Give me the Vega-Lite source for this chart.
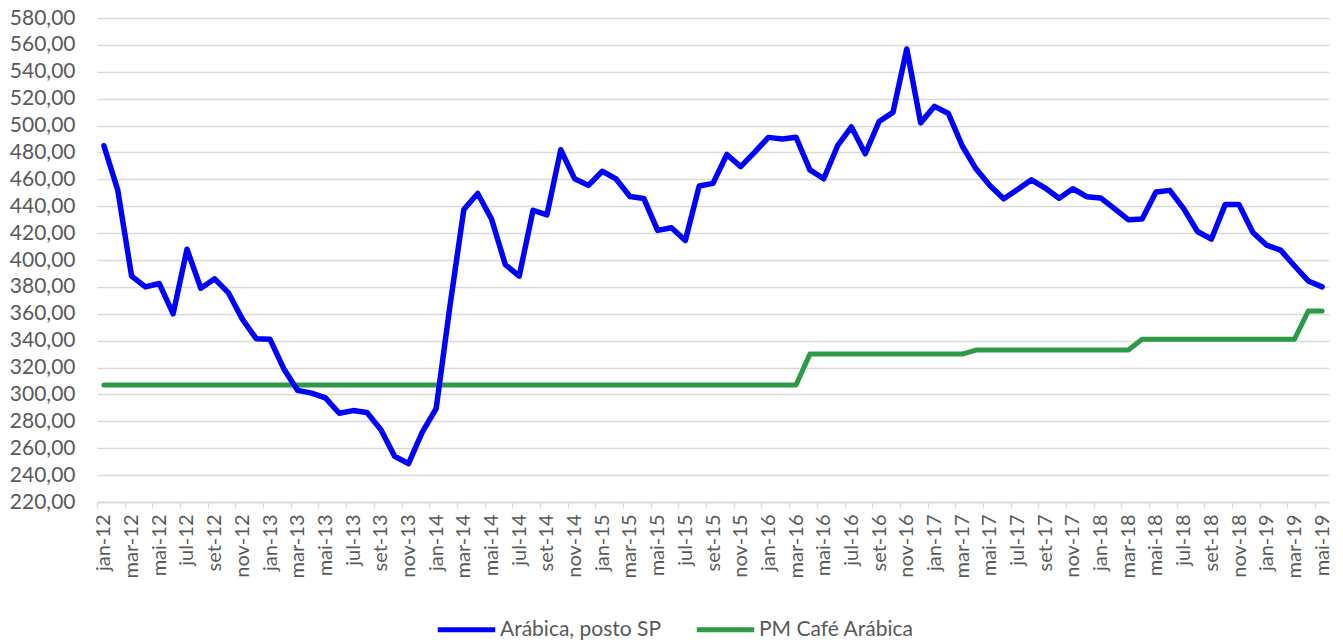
{
  "$schema": "https://vega.github.io/schema/vega-lite/v6.json",
  "autosize": {"type": "none"},
  "width": 1232,
  "height": 484,
  "padding": {"left": 97, "top": 18, "right": 14, "bottom": 142},
  "background": "white",
  "config": {
    "font": "Lato",
    "view": {"stroke": null}
  },
  "datasets": {
    "arabica": [
      {"m":"jan-12","v":485},{"m":"fev-12","v":452},{"m":"mar-12","v":388},{"m":"abr-12","v":380},
      {"m":"mai-12","v":382.5},{"m":"jun-12","v":360},{"m":"jul-12","v":408},{"m":"ago-12","v":379},
      {"m":"set-12","v":386},{"m":"out-12","v":375.5},{"m":"nov-12","v":356},{"m":"dez-12","v":341.5},
      {"m":"jan-13","v":341},{"m":"fev-13","v":319},{"m":"mar-13","v":303},{"m":"abr-13","v":301},
      {"m":"mai-13","v":297.5},{"m":"jun-13","v":286},{"m":"jul-13","v":288},{"m":"ago-13","v":286.5},
      {"m":"set-13","v":274},{"m":"out-13","v":254},{"m":"nov-13","v":248.5},{"m":"dez-13","v":272},
      {"m":"jan-14","v":289.5},{"m":"fev-14","v":366},{"m":"mar-14","v":437.5},{"m":"abr-14","v":449.5},
      {"m":"mai-14","v":430.5},{"m":"jun-14","v":396.5},{"m":"jul-14","v":388},{"m":"ago-14","v":437},
      {"m":"set-14","v":433.5},{"m":"out-14","v":482},{"m":"nov-14","v":460.5},{"m":"dez-14","v":455.5},
      {"m":"jan-15","v":466},{"m":"fev-15","v":460.3},{"m":"mar-15","v":447.2},{"m":"abr-15","v":445.8},
      {"m":"mai-15","v":422},{"m":"jun-15","v":424},{"m":"jul-15","v":414.5},{"m":"ago-15","v":455},
      {"m":"set-15","v":457},{"m":"out-15","v":478.5},{"m":"nov-15","v":469.5},{"m":"dez-15","v":480},
      {"m":"jan-16","v":491.2},{"m":"fev-16","v":490},{"m":"mar-16","v":491.3},{"m":"abr-16","v":467},
      {"m":"mai-16","v":460.4},{"m":"jun-16","v":485},{"m":"jul-16","v":499},{"m":"ago-16","v":479},
      {"m":"set-16","v":503},{"m":"out-16","v":509.8},{"m":"nov-16","v":557},{"m":"dez-16","v":502},
      {"m":"jan-17","v":514.3},{"m":"fev-17","v":509},{"m":"mar-17","v":485},{"m":"abr-17","v":467.8},
      {"m":"mai-17","v":455.4},{"m":"jun-17","v":445.5},{"m":"jul-17","v":452.5},{"m":"ago-17","v":459.6},
      {"m":"set-17","v":453.5},{"m":"out-17","v":446},{"m":"nov-17","v":453},{"m":"dez-17","v":447.1},
      {"m":"jan-18","v":446.2},{"m":"fev-18","v":438.2},{"m":"mar-18","v":430},{"m":"abr-18","v":430.5},
      {"m":"mai-18","v":450.6},{"m":"jun-18","v":451.8},{"m":"jul-18","v":438.2},{"m":"ago-18","v":421.2},
      {"m":"set-18","v":415.5},{"m":"out-18","v":441.2},{"m":"nov-18","v":441.2},{"m":"dez-18","v":420.4},
      {"m":"jan-19","v":411},{"m":"fev-19","v":407.3},{"m":"mar-19","v":395.7},{"m":"abr-19","v":384.4},
      {"m":"mai-19","v":380}
    ],
    "pm": [
      {"m":"jan-12","v":307},{"m":"fev-12","v":307},{"m":"mar-12","v":307},{"m":"abr-12","v":307},
      {"m":"mai-12","v":307},{"m":"jun-12","v":307},{"m":"jul-12","v":307},{"m":"ago-12","v":307},
      {"m":"set-12","v":307},{"m":"out-12","v":307},{"m":"nov-12","v":307},{"m":"dez-12","v":307},
      {"m":"jan-13","v":307},{"m":"fev-13","v":307},{"m":"mar-13","v":307},{"m":"abr-13","v":307},
      {"m":"mai-13","v":307},{"m":"jun-13","v":307},{"m":"jul-13","v":307},{"m":"ago-13","v":307},
      {"m":"set-13","v":307},{"m":"out-13","v":307},{"m":"nov-13","v":307},{"m":"dez-13","v":307},
      {"m":"jan-14","v":307},{"m":"fev-14","v":307},{"m":"mar-14","v":307},{"m":"abr-14","v":307},
      {"m":"mai-14","v":307},{"m":"jun-14","v":307},{"m":"jul-14","v":307},{"m":"ago-14","v":307},
      {"m":"set-14","v":307},{"m":"out-14","v":307},{"m":"nov-14","v":307},{"m":"dez-14","v":307},
      {"m":"jan-15","v":307},{"m":"fev-15","v":307},{"m":"mar-15","v":307},{"m":"abr-15","v":307},
      {"m":"mai-15","v":307},{"m":"jun-15","v":307},{"m":"jul-15","v":307},{"m":"ago-15","v":307},
      {"m":"set-15","v":307},{"m":"out-15","v":307},{"m":"nov-15","v":307},{"m":"dez-15","v":307},
      {"m":"jan-16","v":307},{"m":"fev-16","v":307},{"m":"mar-16","v":307},{"m":"abr-16","v":330},
      {"m":"mai-16","v":330},{"m":"jun-16","v":330},{"m":"jul-16","v":330},{"m":"ago-16","v":330},
      {"m":"set-16","v":330},{"m":"out-16","v":330},{"m":"nov-16","v":330},{"m":"dez-16","v":330},
      {"m":"jan-17","v":330},{"m":"fev-17","v":330},{"m":"mar-17","v":330},{"m":"abr-17","v":333},
      {"m":"mai-17","v":333},{"m":"jun-17","v":333},{"m":"jul-17","v":333},{"m":"ago-17","v":333},
      {"m":"set-17","v":333},{"m":"out-17","v":333},{"m":"nov-17","v":333},{"m":"dez-17","v":333},
      {"m":"jan-18","v":333},{"m":"fev-18","v":333},{"m":"mar-18","v":333},{"m":"abr-18","v":341},
      {"m":"mai-18","v":341},{"m":"jun-18","v":341},{"m":"jul-18","v":341},{"m":"ago-18","v":341},
      {"m":"set-18","v":341},{"m":"out-18","v":341},{"m":"nov-18","v":341},{"m":"dez-18","v":341},
      {"m":"jan-19","v":341},{"m":"fev-19","v":341},{"m":"mar-19","v":341},{"m":"abr-19","v":362},
      {"m":"mai-19","v":362}
    ]
  },
  "encoding": {
    "x": {
      "field": "m",
      "type": "ordinal",
      "sort": null,
      "title": null,
      "scale": {"type": "point", "padding": 0.5},
      "axis": {
        "values": ["jan-12","mar-12","mai-12","jul-12","set-12","nov-12","jan-13","mar-13","mai-13","jul-13","set-13","nov-13","jan-14","mar-14","mai-14","jul-14","set-14","nov-14","jan-15","mar-15","mai-15","jul-15","set-15","nov-15","jan-16","mar-16","mai-16","jul-16","set-16","nov-16","jan-17","mar-17","mai-17","jul-17","set-17","nov-17","jan-18","mar-18","mai-18","jul-18","set-18","nov-18","jan-19","mar-19","mai-19"],
        "labelAngle": -90,
        "labelFontSize": 20,
        "labelColor": "#595959",
        "labelPadding": 6,
        "tickSize": 6,
        "tickColor": "#d9d9d9",
        "tickWidth": 1.3,
        "tickOffset": -6.92,
        "labelOffset": 6.92,
        "domainColor": "#d9d9d9",
        "domainWidth": 1.5,
        "grid": false
      }
    },
    "y": {
      "field": "v",
      "type": "quantitative",
      "title": null,
      "scale": {"domain": [220, 580], "nice": false, "zero": false},
      "axis": {
        "values": [220,240,260,280,300,320,340,360,380,400,420,440,460,480,500,520,540,560,580],
        "labelExpr": "replace(format(datum.value, '.2f'), '.', ',')",
        "labelFontSize": 21,
        "labelColor": "#595959",
        "labelPadding": 22,
        "ticks": false,
        "domain": false,
        "grid": true,
        "gridColor": "#d9d9d9",
        "gridWidth": 1.4
      }
    },
    "color": {
      "field": "serie",
      "type": "nominal",
      "scale": {"domain": ["Arábica, posto SP", "PM Café Arábica"], "range": ["#0000ff", "#2e9a47"]},
      "legend": {
        "title": null,
        "orient": "none",
        "direction": "horizontal",
        "legendX": 338,
        "legendY": 580,
        "symbolType": "stroke",
        "symbolSize": 3300,
        "symbolStrokeWidth": 5,
        "labelFontSize": 21,
        "labelColor": "#595959",
        "labelOffset": 2,
        "labelLimit": 400,
        "columnPadding": 24
      }
    }
  },
  "layer": [
    {
      "data": {"name": "pm"},
      "mark": {"type": "line", "strokeWidth": 5, "strokeCap": "round", "strokeJoin": "round"},
      "encoding": {"color": {"datum": "PM Café Arábica", "type": "nominal"}}
    },
    {
      "data": {"name": "arabica"},
      "mark": {"type": "line", "strokeWidth": 5.5, "strokeCap": "round", "strokeJoin": "round"},
      "encoding": {"color": {"datum": "Arábica, posto SP", "type": "nominal"}}
    }
  ]
}
